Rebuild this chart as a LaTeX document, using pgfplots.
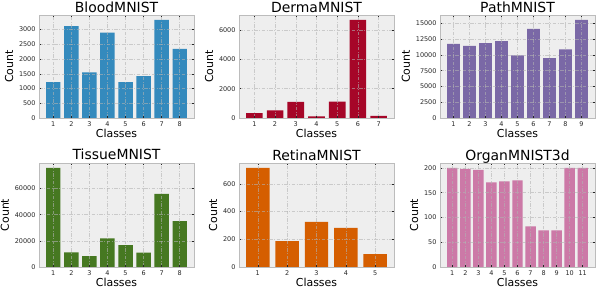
\documentclass[border=0pt]{standalone}
\usepackage{pgfplots}
\pgfplotsset{compat=1.18}
\usepackage{fontspec}
\setmainfont{DejaVu Sans}
\definecolor{bmhblue}{HTML}{348ABD}
\definecolor{bmhred}{HTML}{A60628}
\definecolor{bmhpurple}{HTML}{7A68A6}
\definecolor{bmhgreen}{HTML}{467821}
\definecolor{bmhorange}{HTML}{D55E00}
\definecolor{bmhpink}{HTML}{CC79A7}
\definecolor{bmhbg}{HTML}{EEEEEE}
\definecolor{bmhedge}{HTML}{BCBCBC}
\definecolor{bmhgrid}{HTML}{B2B2B2}
\pgfplotsset{
  every axis title/.style={at={(0.5,1)}, anchor=base, inner sep=0pt},
  panel/.style={
    scale only axis,
    width=155bp,
    anchor=south west,
    axis on top,
    axis background/.style={fill=bmhbg},
    axis line style={bmhedge, line width=0.8pt},
    ybar, bar width=0.8,
    bar shift=0pt,
    ymin=0,
    xtick=data,
    grid=major,
    major grid style={bmhgrid, opacity=0.6, line width=0.5pt, dash pattern=on 3.5bp off 1.5bp on 1bp off 1.5bp},
    tick align=inside,
    major tick length=2bp,
    tick style={black!85, line width=0.5pt},
    ticklabel style={font=\fontsize{6.5}{7}\selectfont, text=black!85},
    /pgf/number format/assume math mode=true,
    /pgf/number format/set thousands separator={},
    scaled y ticks=false,
    title style={font=\fontsize{14}{15}\selectfont},
    xlabel={Classes},
    ylabel={Count},
    label style={font=\fontsize{11}{12}\selectfont},
    ylabel style={yshift=-1bp},
    every axis plot/.append style={draw=none},
  },
  toprow/.style={panel, height=103bp, title style={yshift=2bp},
    xlabel style={at={(axis description cs:0.5,0)}, anchor=base, inner sep=0pt, yshift=-19.5bp}},
  botrow/.style={panel, height=104bp, title style={yshift=3bp},
    xlabel style={at={(axis description cs:0.5,0)}, anchor=base, inner sep=0pt, yshift=-19bp}},
}
\begin{document}
\begin{tikzpicture}
\path[use as bounding box] (0,0) rectangle (596bp,288bp);
% BloodMNIST
\begin{axis}[toprow, at={(39bp,170bp)},
  title={BloodMNIST}, xmin=0.21, xmax=8.79, ymax=3495,
  ytick={0,500,1000,1500,2000,2500,3000}]
\addplot[fill=bmhblue] coordinates {(1,1218) (2,3117) (3,1551) (4,2895) (5,1214) (6,1420) (7,3329) (8,2348)};
\end{axis}
% DermaMNIST
\begin{axis}[toprow, at={(239bp,170bp)},
  title={DermaMNIST}, xmin=0.26, xmax=7.74, ymax=7040,
  ytick={0,2000,4000,6000}]
\addplot[fill=bmhred] coordinates {(1,327) (2,514) (3,1099) (4,115) (5,1113) (6,6705) (7,142)};
\end{axis}
% PathMNIST
\begin{axis}[toprow, at={(440bp,170bp)},
  title={PathMNIST}, xmin=0.16, xmax=9.84, ymax=16327,
  ytick={0,2500,5000,7500,10000,12500,15000}]
\addplot[fill=bmhpurple] coordinates {(1,11745) (2,11413) (3,11851) (4,12191) (5,9931) (6,14128) (7,9504) (8,10867) (9,15550)};
\end{axis}
% TissueMNIST
\begin{axis}[botrow, at={(39bp,21bp)},
  title={TissueMNIST}, xmin=0.21, xmax=8.79, ymax=79600,
  ytick={0,20000,40000,60000}]
\addplot[fill=bmhgreen] coordinates {(1,75800) (2,11200) (3,8400) (4,22000) (5,16800) (6,11000) (7,56000) (8,35200)};
\end{axis}
% RetinaMNIST
\begin{axis}[botrow, at={(239bp,21bp)},
  title={RetinaMNIST}, xmin=0.36, xmax=5.64, ymax=750,
  ytick={0,200,400,600}]
\addplot[fill=bmhorange] coordinates {(1,714) (2,186) (3,326) (4,282) (5,92)};
\end{axis}
% OrganMNIST3d
\begin{axis}[botrow, at={(440bp,21bp)},
  title={OrganMNIST3d}, xmin=0.06, xmax=11.94, ymax=210,
  ytick={0,50,100,150,200}]
\addplot[fill=bmhpink] coordinates {(1,200) (2,198) (3,196) (4,171) (5,173) (6,175) (7,82) (8,74) (9,74) (10,200) (11,200)};
\end{axis}
\end{tikzpicture}
\end{document}
